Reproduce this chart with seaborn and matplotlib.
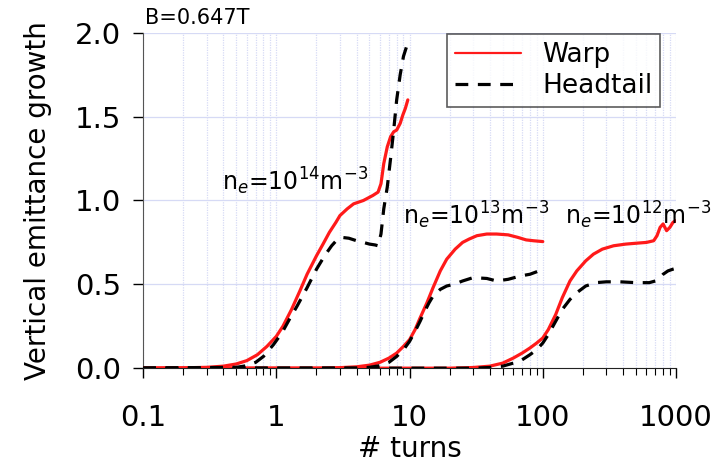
import numpy as np
import pandas as pd
import matplotlib
matplotlib.use("Agg")
import matplotlib.pyplot as plt
import matplotlib.ticker as mticker
import seaborn as sns

# values (x = # turns, y = vertical emittance growth)
warp14_x = [0.1, 0.2, 0.3, 0.4, 0.5, 0.6, 0.72, 0.85, 1.0, 1.12, 1.3, 1.5, 1.7, 2.0, 2.24, 2.5, 2.8, 3.0,
            3.4, 3.8, 4.5, 5.3, 5.8, 6.1, 6.4, 6.8, 7.2, 7.6, 8.0, 8.5, 8.9, 9.3, 9.7]
warp14_y = [0, 0.002, 0.005, 0.012, 0.025, 0.045, 0.08, 0.13, 0.19, 0.25, 0.35, 0.46, 0.56, 0.67, 0.74, 0.81,
            0.87, 0.91, 0.95, 0.98, 1.00, 1.03, 1.05, 1.10, 1.22, 1.32, 1.38, 1.41, 1.42, 1.46, 1.51, 1.55, 1.6]
head14_x = [0.1, 0.5, 0.6, 0.7, 0.8, 0.95, 1.1, 1.25, 1.43, 1.7, 2.0, 2.3, 2.6, 2.85, 3.1, 3.5, 4.0, 4.5,
            5.0, 5.5, 5.8, 6.1, 6.4, 6.8, 7.2, 7.6, 8.0, 8.5, 9.0, 9.6, 10]
head14_y = [0, 0.005, 0.015, 0.035, 0.07, 0.14, 0.21, 0.29, 0.37, 0.48, 0.59, 0.67, 0.73, 0.765, 0.78, 0.775,
            0.76, 0.75, 0.74, 0.735, 0.73, 0.8, 0.95, 1.08, 1.25, 1.42, 1.6, 1.75, 1.86, 1.93, 1.95]

warp13_x = [0.1, 2, 3, 4, 5, 6, 7, 8, 9, 10, 11, 12, 13.5, 15, 17, 19, 22, 25, 28, 32, 38, 45, 55, 65, 75, 85, 100]
warp13_y = [0, 0, 0.003, 0.008, 0.018, 0.035, 0.06, 0.09, 0.13, 0.17, 0.23, 0.30, 0.39, 0.48, 0.58, 0.65,
            0.71, 0.75, 0.77, 0.79, 0.80, 0.80, 0.795, 0.78, 0.765, 0.76, 0.755]
head13_x = [0.1, 4, 5, 6, 7, 8, 9, 10, 11, 12, 13, 14, 15, 17, 19, 21.5, 25, 30, 38, 45, 55, 68, 80, 90, 100]
head13_y = [0, 0, 0.005, 0.015, 0.035, 0.07, 0.11, 0.16, 0.22, 0.28, 0.34, 0.39, 0.43, 0.47, 0.49, 0.50,
            0.52, 0.54, 0.535, 0.52, 0.53, 0.55, 0.56, 0.575, 0.59]

warp12_x = [0.1, 20, 30, 40, 50, 60, 70, 80, 90, 100, 110, 125, 140, 160, 180, 210, 240, 280, 340, 420,
            500, 600, 680, 720, 760, 800, 850, 900, 950, 1000]
warp12_y = [0, 0, 0.004, 0.012, 0.03, 0.06, 0.09, 0.12, 0.15, 0.18, 0.23, 0.32, 0.42, 0.52, 0.58, 0.64,
            0.68, 0.71, 0.73, 0.74, 0.745, 0.75, 0.76, 0.79, 0.84, 0.86, 0.82, 0.84, 0.87, 0.88]
head12_x = [0.1, 30, 40, 50, 60, 70, 80, 90, 100, 110, 125, 140, 160, 180, 210, 250, 300, 380, 500, 630,
            700, 760, 800, 870, 945, 1000]
head12_y = [0, 0, 0.004, 0.012, 0.03, 0.05, 0.08, 0.11, 0.15, 0.2, 0.28, 0.35, 0.41, 0.45, 0.49, 0.51,
            0.515, 0.515, 0.51, 0.51, 0.52, 0.54, 0.56, 0.58, 0.59, 0.595]

xticks = [0.1, 1, 10, 100, 1000]
xticklabels = ["0.1", "1", "10", "100", "1000"]
yticks = [0.0, 0.5, 1.0, 1.5, 2.0]

sns.set_style("ticks")
plt.rcParams['font.family'] = ['DejaVu Sans']
plt.rcParams['text.color'] = 'black'
plt.rcParams['xtick.color'] = 'black'
plt.rcParams['ytick.color'] = 'black'
plt.rcParams['axes.labelcolor'] = 'black'

fig = plt.figure(figsize=(7.23, 4.69), dpi=100)
ax = fig.add_axes([0.198, 0.215, 0.737, 0.715])

gridc = "#d6daf5"
for xv in xticks:
    for m in range(1, 10):
        v = xv * m
        if v <= 1000:
            ax.axvline(v, color=gridc, lw=0.9, ls=(0, (1, 1)), zorder=0)
for yv in yticks[1:]:
    ax.axhline(yv, color=gridc, lw=0.9, zorder=0)

pairs = [(warp14_x, warp14_y, head14_x, head14_y),
         (warp13_x, warp13_y, head13_x, head13_y),
         (warp12_x, warp12_y, head12_x, head12_y)]
for i, (wx, wy, hx, hy) in enumerate(pairs):
    sns.lineplot(x=wx, y=wy, ax=ax, color="#ff1a1a", lw=2.3, estimator=None, sort=False,
                 label="Warp" if i == 0 else None, zorder=3)
    sns.lineplot(x=hx, y=hy, ax=ax, color="black", lw=2.3, estimator=None, sort=False,
                 label="Headtail" if i == 0 else None, zorder=4)
    ax.lines[-1].set_dashes([4, 3])

ax.set_xscale("log")
ax.set_xlim(0.1, 1000)
ax.set_ylim(0, 2.0)
ax.set_xticks(xticks)
ax.set_xticklabels(xticklabels)
ax.xaxis.set_minor_locator(mticker.LogLocator(base=10, subs=np.arange(2, 10)))
ax.xaxis.set_minor_formatter(mticker.NullFormatter())
ax.set_yticks(yticks)
ax.set_yticklabels([f"{v:.1f}" for v in yticks])
ax.tick_params(axis="both", which="major", labelsize=21, length=7, width=1, direction="out")
ax.tick_params(axis="x", which="major", pad=19)
ax.tick_params(axis="y", which="major", pad=9)
ax.tick_params(axis="x", which="minor", length=5, width=0.8, direction="out")
ax.spines["top"].set_visible(False)
ax.spines["right"].set_visible(False)
ax.spines["left"].set_color("#555555")
ax.spines["bottom"].set_color("#222222")

ax.set_xlabel("# turns", fontsize=20, labelpad=2)
ax.set_ylabel("Vertical emittance growth", fontsize=20, labelpad=16)

leg = ax.legend(loc="upper right", bbox_to_anchor=(0.995, 1.035), fontsize=19, frameon=True,
                fancybox=False, handlelength=2.5, borderpad=0.3, labelspacing=0.2)
leg.get_frame().set_edgecolor("#333333")
leg.get_frame().set_linewidth(1.2)
leg.get_lines()[0].set_linewidth(1.6)

ax.text(0.103, 2.03, "B=0.647T", fontsize=15, ha="left", va="bottom")
ax.text(0.39, 1.06, r"n$_e$=10$^{14}$m$^{-3}$", fontsize=17, ha="left", va="baseline")
ax.text(8.9, 0.86, r"n$_e$=10$^{13}$m$^{-3}$", fontsize=17, ha="left", va="baseline")
ax.text(148, 0.86, r"n$_e$=10$^{12}$m$^{-3}$", fontsize=17, ha="left", va="baseline")

fig.savefig("out.png", dpi=100)
